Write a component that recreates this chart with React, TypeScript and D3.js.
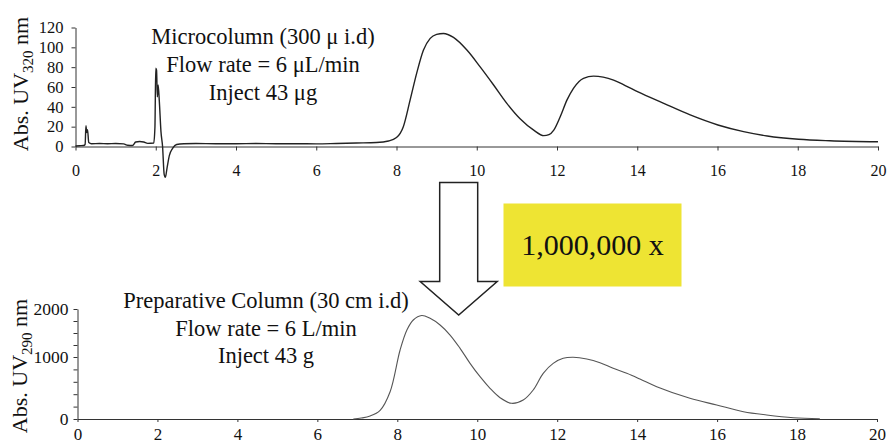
import React, { useEffect, useRef } from 'react';
import * as d3 from 'd3';

// Microcolumn trace (time in min, absorbance at 320 nm)
const topTime = [0, 0.1, 0.2, 0.24, 0.26, 0.28, 0.3, 0.33, 0.4, 0.6, 0.8, 1.0, 1.2, 1.3, 1.42, 1.5, 1.6, 1.7, 1.8, 1.95, 1.98, 2.0, 2.02, 2.04, 2.06, 2.09, 2.13, 2.17, 2.21, 2.24, 2.28, 2.34, 2.42, 2.52, 2.7, 3.0, 3.5, 4.0, 4.5, 5.0, 5.5, 6.0, 6.5, 7.0, 7.5, 7.8, 8.0, 8.17, 8.34, 8.51, 8.67, 8.84, 9.0, 9.17, 9.42, 9.76, 10.09, 10.42, 10.75, 11.08, 11.42, 11.67, 11.8, 11.92, 12.08, 12.25, 12.41, 12.66, 12.91, 13.41, 13.7, 14.02, 14.66, 15.32, 16.01, 16.65, 17.24, 18.02, 18.8, 20.0];
const topAbs = [0.5, 0.8, 1, 2, 21, 14, 17, 4, 2.8, 3, 2.8, 3, 2.6, 1.2, 1.0, 4.5, 5, 4.5, 3.2, 3.5, 20, 79, 77, 50, 62, 45, 15, 0, -28, -31, -22, -9, -2, 2, 2.8, 3, 2.8, 2.8, 3, 2.7, 2.8, 2.6, 3, 3.5, 4, 5.5, 9, 20, 47, 75, 97, 109, 113, 114, 110, 97, 80, 62, 43.5, 28, 16.5, 11, 12, 16.5, 30, 47, 58.7, 68.8, 71, 67, 61.5, 55, 43.5, 31.8, 21.7, 15, 10.6, 7.3, 5.8, 4.8];

// Preparative column trace (time in min, absorbance at 290 nm)
const bottomTime = [6.9, 7.1, 7.32, 7.57, 7.82, 8.07, 8.24, 8.4, 8.61, 8.82, 9.07, 9.32, 9.57, 9.82, 10.07, 10.32, 10.57, 10.86, 11.15, 11.4, 11.65, 11.9, 12.15, 12.4, 12.74, 13.07, 13.4, 13.74, 14.07, 14.49, 15.32, 15.99, 16.66, 17.24, 17.91, 18.57];
const bottomAbs = [0, 15, 48, 140, 440, 1146, 1562, 1771, 1865, 1806, 1667, 1458, 1181, 898, 682, 495, 344, 253, 306, 468, 737, 898, 979, 995, 968, 908, 817, 737, 645, 521, 334, 226, 118, 65, 21, 5];

const xTicks = [0, 2, 4, 6, 8, 10, 12, 14, 16, 18, 20];
const topYTicks = [0, 20, 40, 60, 80, 100, 120];
const bottomYTicks = [0, 1000, 2000];
const bottomYMinor = [200, 400, 600, 800, 1250, 1500, 1750];

const topNotes = ['Microcolumn (300\u00a0\u03bc i.d)', 'Flow rate = 6 \u03bcL/min', 'Inject 43 \u03bcg'];
const bottomNotes = ['Preparative Column (30 cm i.d)', 'Flow rate = 6 L/min', 'Inject 43 g'];
const factorLabel = '1,000,000 x';

const FONT = '"Liberation Serif", "Times New Roman", serif';

const App = () => {
  const myRef = useRef(null);
  const width = 887;
  const height = 443;

  useEffect(() => {
    const svg = d3.select(myRef.current);
    svg.selectAll('*').remove();
    svg.attr('width', width).attr('height', height).style('font-family', FONT);

    // scales
    const xTop = d3.scaleLinear().domain([0, 20]).range([75.5, 878]);
    const yTop = d3.scaleLinear().domain([0, 120]).range([146.5, 27.5]);
    const xBot = d3.scaleLinear().domain([0, 20]).range([77.5, 877]);
    // the printed axis is not evenly spaced, so use a piecewise scale
    const yBot = d3.scaleLinear().domain([0, 1000, 2000]).range([419, 357, 309]);

    const styleAxis = (g, size) => {
      g.attr('font-family', FONT).attr('font-size', size);
      g.selectAll('path').attr('stroke', '#333');
      g.selectAll('line').attr('stroke', '#333');
      g.selectAll('text').attr('fill', '#111');
    };

    // ----- top chart -----
    svg.append('g')
      .attr('transform', `translate(0, ${yTop(0)})`)
      .call(d3.axisBottom(xTop).tickValues(xTicks).tickSize(4).tickPadding(14).tickSizeOuter(0))
      .call(g => styleAxis(g, 16));

    svg.append('g')
      .attr('transform', `translate(${xTop(0)}, 0)`)
      .call(d3.axisLeft(yTop).tickValues(topYTicks).tickSize(4).tickPadding(8).tickSizeOuter(0))
      .call(g => styleAxis(g, 16.5));

    const lineTop = d3.line()
      .x((d, i) => xTop(topTime[i]))
      .y(d => yTop(d))
      .curve(d3.curveMonotoneX);

    svg.append('path')
      .attr('d', lineTop(topAbs))
      .attr('fill', 'none')
      .attr('stroke', '#222')
      .attr('stroke-width', 1.4)
      .attr('stroke-linejoin', 'round');

    // ----- bottom chart -----
    svg.append('g')
      .attr('transform', `translate(0, ${yBot(0)})`)
      .call(d3.axisBottom(xBot).tickValues(xTicks).tickSize(3).tickPadding(6).tickSizeOuter(0))
      .call(g => styleAxis(g, 17));

    svg.append('g')
      .attr('transform', `translate(${xBot(0)}, 0)`)
      .call(d3.axisLeft(yBot).tickValues(bottomYTicks).tickFormat(d3.format('d')).tickSize(4).tickPadding(5).tickSizeOuter(0))
      .call(g => styleAxis(g, 17.5));

    svg.append('g')
      .attr('transform', `translate(${xBot(0)}, 0)`)
      .call(d3.axisLeft(yBot).tickValues(bottomYMinor).tickSize(4).tickFormat(() => '').tickSizeOuter(0))
      .call(g => { styleAxis(g, 17); g.select('.domain').remove(); });

    const lineBot = d3.line()
      .x((d, i) => xBot(bottomTime[i]))
      .y(d => yBot(d))
      .curve(d3.curveCatmullRom.alpha(0.5));

    svg.append('path')
      .attr('d', lineBot(bottomAbs))
      .attr('fill', 'none')
      .attr('stroke', '#555')
      .attr('stroke-width', 1.1);

    // ----- y axis titles -----
    const yTitle = (cx, cy, sub) => {
      const t = svg.append('text')
        .attr('transform', `translate(${cx}, ${cy}) rotate(-90)`)
        .attr('text-anchor', 'middle')
        .attr('font-size', 22)
        .attr('fill', '#111');
      t.append('tspan').text('Abs. UV');
      t.append('tspan').attr('font-size', 15).attr('dy', 5).text(sub);
      t.append('tspan').attr('dy', -5).text(' nm');
    };
    yTitle(28, 84, '320');
    yTitle(27, 366, '290');

    // ----- notes -----
    const notes = (lines, cx, y0, step) => {
      lines.forEach((s, i) => {
        svg.append('text')
          .attr('x', cx)
          .attr('y', y0 + i * step)
          .attr('text-anchor', 'middle')
          .attr('font-size', 22.5)
          .attr('fill', '#111')
          .text(s);
      });
    };
    notes(topNotes, 263, 44, 28);
    notes(bottomNotes, 266, 308, 27.5);

    // ----- arrow -----
    const ax = xTop(9.55);
    const arrow = [
      [ax - 19, 182.5], [ax + 19, 182.5], [ax + 19, 281.5], [ax + 38.5, 281.5],
      [ax, 315], [ax - 38.5, 281.5], [ax - 19, 281.5]
    ];
    svg.append('polygon')
      .attr('points', arrow.map(p => p.join(',')).join(' '))
      .attr('fill', '#fff')
      .attr('stroke', '#222')
      .attr('stroke-width', 1.5);

    // ----- scale-up box -----
    svg.append('rect')
      .attr('x', 503.5).attr('y', 203.5)
      .attr('width', 178).attr('height', 83)
      .attr('fill', '#EEE433');
    svg.append('text')
      .attr('x', 592.5).attr('y', 255)
      .attr('text-anchor', 'middle')
      .attr('font-size', 30)
      .attr('fill', '#111')
      .text(factorLabel);
  }, []);

  return (
    <div>
      <svg ref={myRef} style={{ position: 'absolute', left: 0, top: 0 }}></svg>
    </div>
  );
};

export default App;
